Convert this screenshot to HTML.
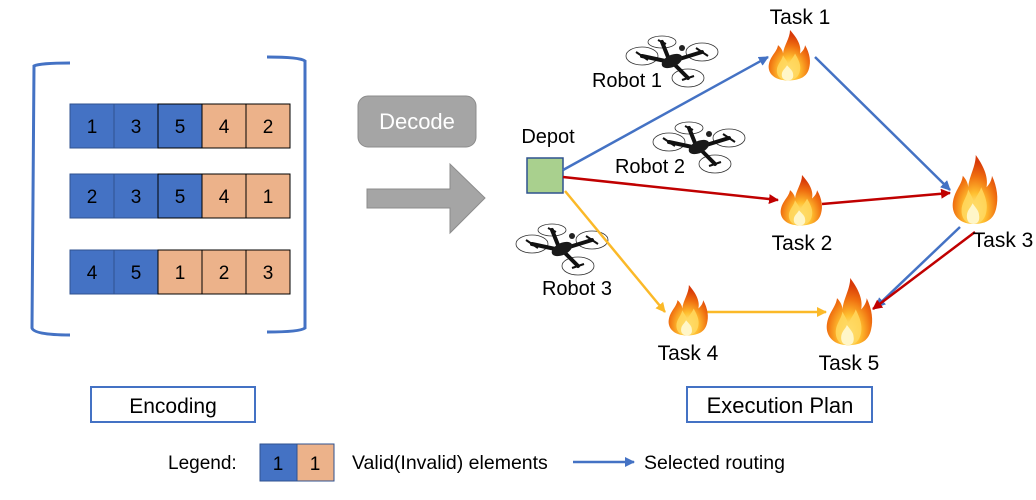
<!DOCTYPE html>
<html><head><meta charset="utf-8"><style>
html,body{margin:0;padding:0;background:#fff}
svg{display:block}
text{font-family:"Liberation Sans",sans-serif}
</style></head><body>
<svg width="1036" height="500" viewBox="0 0 1036 500" xmlns="http://www.w3.org/2000/svg">
<defs>
<radialGradient id="fg" cx="0.5" cy="0.8" r="0.7">
<stop offset="0" stop-color="#fff2a0"/><stop offset="0.35" stop-color="#ffc030"/><stop offset="0.7" stop-color="#f07010"/><stop offset="1" stop-color="#d83a08"/>
</radialGradient>
<g id="fire">
<path d="M20,60 C5,60 -1,50 1,40 C3,30 9,26 10,18 C14,22 15,26 15,28 C16,18 22,10 22,0 C28,8 34,18 32,28 C36,24 37,20 37,18 C42,28 43,38 41,46 C39,55 33,60 20,60 Z" fill="url(#fg)"/>
<path d="M20,60 C12,60 8,54 9,46 C10,40 14,36 15,30 C18,36 20,38 20,42 C22,36 26,32 27,28 C31,36 33,42 32,48 C31,56 26,60 20,60Z" fill="#ffd860" opacity="0.85"/>
<path d="M20,60 C15,60 13,56 14,51 C15,47 18,45 19,42 C22,46 25,49 25,52 C26,57 24,60 20,60Z" fill="#fff6c8"/>
</g>
<g id="drone" fill="none" stroke="#333" stroke-width="0.8">
<ellipse cx="-28" cy="-6" rx="16" ry="9"/>
<ellipse cx="-8" cy="-20" rx="14" ry="6"/>
<ellipse cx="32" cy="-10" rx="16" ry="9"/>
<ellipse cx="18" cy="16" rx="16" ry="9"/>
<g stroke="#111" stroke-width="4" stroke-linecap="round">
<line x1="-28" y1="-6" x2="0" y2="0"/><line x1="-8" y1="-20" x2="0" y2="0"/>
<line x1="32" y1="-10" x2="6" y2="-2"/><line x1="18" y1="16" x2="4" y2="2"/>
</g>
<ellipse cx="2" cy="-1" rx="11" ry="6" fill="#1a1a1a" stroke="none" transform="rotate(-25 2 -1)"/>
<circle cx="12" cy="-14" r="3" fill="#222" stroke="none"/>
<g stroke="#111" stroke-width="2"><line x1="-34" y1="-10" x2="-22" y2="-2"/><line x1="26" y1="-14" x2="38" y2="-6"/><line x1="12" y1="18" x2="24" y2="14"/><line x1="-12" y1="-22" x2="-4" y2="-18"/></g>
</g>
<marker id="ab" markerWidth="10" markerHeight="10" refX="9" refY="5" orient="auto" markerUnits="userSpaceOnUse"><path d="M0,0 L10,5 L0,10 Z" fill="#4472c4"/></marker>
<marker id="ar" markerWidth="10" markerHeight="10" refX="9" refY="5" orient="auto" markerUnits="userSpaceOnUse"><path d="M0,0 L10,5 L0,10 Z" fill="#c00000"/></marker>
<marker id="ay" markerWidth="10" markerHeight="10" refX="9" refY="5" orient="auto" markerUnits="userSpaceOnUse"><path d="M0,0 L10,5 L0,10 Z" fill="#fbb928"/></marker>
</defs>

<path d="M70,63 Q40,63 34,66 L32,328 Q34,335 70,335" fill="none" stroke="#4472c4" stroke-width="3"/>
<path d="M267,57 Q300,57 305,61 L305,328 Q300,332 267,332" fill="none" stroke="#4472c4" stroke-width="3"/>

<g stroke-width="1" font-size="19" text-anchor="middle">
<g transform="translate(70,104)">
<rect x="0" y="0" width="44" height="44" fill="#4472c4" stroke="#2f528f"/><rect x="44" y="0" width="44" height="44" fill="#4472c4" stroke="#2f528f"/><rect x="88" y="0" width="44" height="44" fill="#4472c4" stroke="#000"/>
<rect x="132" y="0" width="44" height="44" fill="#ecb28a" stroke="#000"/><rect x="176" y="0" width="44" height="44" fill="#ecb28a" stroke="#000"/>
<text x="22" y="29">1</text><text x="66" y="29">3</text><text x="110" y="29">5</text><text x="154" y="29">4</text><text x="198" y="29">2</text>
</g>
<g transform="translate(70,174)">
<rect x="0" y="0" width="44" height="44" fill="#4472c4" stroke="#2f528f"/><rect x="44" y="0" width="44" height="44" fill="#4472c4" stroke="#2f528f"/><rect x="88" y="0" width="44" height="44" fill="#4472c4" stroke="#000"/>
<rect x="132" y="0" width="44" height="44" fill="#ecb28a" stroke="#000"/><rect x="176" y="0" width="44" height="44" fill="#ecb28a" stroke="#000"/>
<text x="22" y="29">2</text><text x="66" y="29">3</text><text x="110" y="29">5</text><text x="154" y="29">4</text><text x="198" y="29">1</text>
</g>
<g transform="translate(70,250)">
<rect x="0" y="0" width="44" height="44" fill="#4472c4" stroke="#2f528f"/><rect x="44" y="0" width="44" height="44" fill="#4472c4" stroke="#2f528f"/>
<rect x="88" y="0" width="44" height="44" fill="#ecb28a" stroke="#000"/><rect x="132" y="0" width="44" height="44" fill="#ecb28a" stroke="#000"/><rect x="176" y="0" width="44" height="44" fill="#ecb28a" stroke="#000"/>
<text x="22" y="29">4</text><text x="66" y="29">5</text><text x="110" y="29">1</text><text x="154" y="29">2</text><text x="198" y="29">3</text>
</g>
</g>

<rect x="358" y="96" width="118" height="51" rx="10" fill="#a5a5a5" stroke="#8c8c8c"/>
<text x="417" y="129" font-size="22" fill="#fff" text-anchor="middle">Decode</text>
<path d="M367,189 L450,189 L450,164 L485,198 L450,233 L450,208 L367,208 Z" fill="#a5a5a5" stroke="#8c8c8c"/>

<text x="548" y="143" font-size="20" text-anchor="middle">Depot</text>
<rect x="527" y="158" width="36" height="35" fill="#a9d08e" stroke="#2f528f" stroke-width="1.5"/>

<use href="#drone" transform="translate(670,62)"/>
<use href="#drone" transform="translate(697,148)"/>
<use href="#drone" transform="translate(560,250)"/>
<text x="627" y="87" font-size="20" text-anchor="middle">Robot 1</text>
<text x="650" y="173" font-size="20" text-anchor="middle">Robot 2</text>
<text x="577" y="295" font-size="20" text-anchor="middle">Robot 3</text>

<g stroke-width="2.5" fill="none">
<line x1="563" y1="170" x2="768" y2="57" stroke="#4472c4" marker-end="url(#ab)"/>
<line x1="815" y1="57" x2="950" y2="190" stroke="#4472c4" marker-end="url(#ab)"/>
<line x1="563" y1="177" x2="778" y2="200" stroke="#c00000" marker-end="url(#ar)"/>
<line x1="822" y1="204" x2="950" y2="193" stroke="#c00000" marker-end="url(#ar)"/>
<line x1="565" y1="191" x2="665" y2="312" stroke="#fbb928" marker-end="url(#ay)"/>
<line x1="707" y1="312" x2="826" y2="312" stroke="#fbb928" marker-end="url(#ay)"/>
<line x1="960" y1="227" x2="876" y2="307" stroke="#4472c4" marker-end="url(#ab)"/>
<line x1="975" y1="232" x2="873" y2="309" stroke="#c00000" marker-end="url(#ar)"/>
</g>

<use href="#fire" transform="translate(768,30) scale(1,0.84)"/>
<use href="#fire" transform="translate(780,175) scale(1,0.84)"/>
<use href="#fire" transform="translate(952,155) scale(1.08,1.15)"/>
<use href="#fire" transform="translate(668,285) scale(0.95,0.84)"/>
<use href="#fire" transform="translate(826,278) scale(1.1,1.12)"/>

<g font-size="21" text-anchor="middle">
<text x="800" y="24">Task 1</text>
<text x="802" y="250">Task 2</text>
<text x="1003" y="247">Task 3</text>
<text x="688" y="360">Task 4</text>
<text x="849" y="370">Task 5</text>
</g>

<rect x="91" y="387" width="164" height="35" fill="#fff" stroke="#4472c4" stroke-width="2"/>
<text x="173" y="413" font-size="21" text-anchor="middle">Encoding</text>
<rect x="687" y="387" width="185" height="35" fill="#fff" stroke="#4472c4" stroke-width="2"/>
<text x="780" y="413" font-size="22" text-anchor="middle">Execution Plan</text>

<text x="168" y="469" font-size="19">Legend:</text>
<rect x="260" y="444" width="37" height="37" fill="#4472c4" stroke="#2f528f"/>
<rect x="297" y="444" width="37" height="37" fill="#ecb28a" stroke="#2f528f"/>
<text x="278" y="470" font-size="19" text-anchor="middle">1</text>
<text x="315" y="470" font-size="19" text-anchor="middle">1</text>
<text x="352" y="469" font-size="19.5">Valid(Invalid) elements</text>
<line x1="573" y1="462" x2="634" y2="462" stroke="#4472c4" stroke-width="2.5" marker-end="url(#ab)"/>
<text x="644" y="469" font-size="19.5">Selected routing</text>
</svg>
</body></html>
